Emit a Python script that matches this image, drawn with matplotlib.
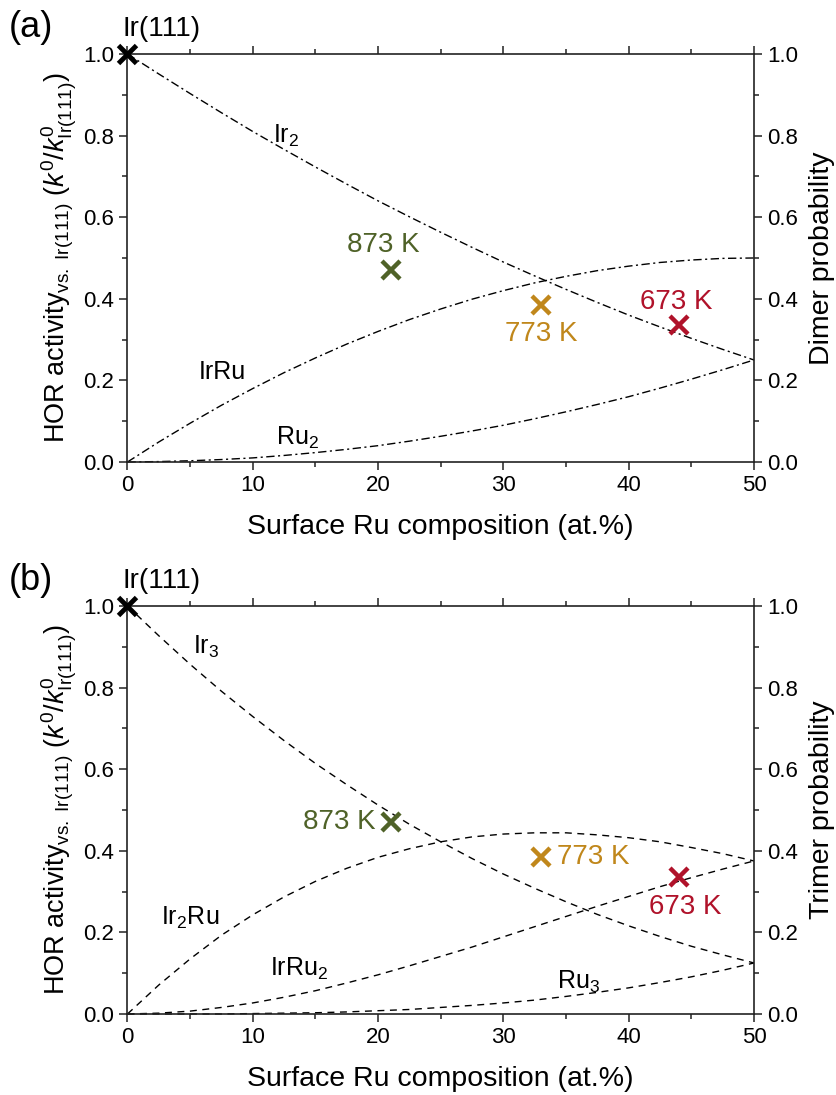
import matplotlib
matplotlib.use('Agg')
import matplotlib.pyplot as plt
from matplotlib.ticker import MultipleLocator, FormatStrFormatter

plt.rcParams['font.family'] = ['Liberation Sans', 'DejaVu Sans']
plt.rcParams['mathtext.fontset'] = 'custom'
plt.rcParams['mathtext.rm'] = 'Liberation Sans'
plt.rcParams['mathtext.it'] = 'Liberation Sans:italic'
plt.rcParams['mathtext.bf'] = 'Liberation Sans:bold'

# surface Ru composition (at.%)
ru_comp = [0, 2.5, 5, 7.5, 10, 12.5, 15, 17.5, 20, 22.5, 25,
           27.5, 30, 32.5, 35, 37.5, 40, 42.5, 45, 47.5, 50]

# dimer probabilities
ir2 = [1.000, 0.951, 0.903, 0.856, 0.810, 0.766, 0.723, 0.681, 0.640, 0.601, 0.563,
       0.526, 0.490, 0.456, 0.423, 0.391, 0.360, 0.331, 0.303, 0.276, 0.250]
irru = [0.000, 0.049, 0.095, 0.139, 0.180, 0.219, 0.255, 0.289, 0.320, 0.349, 0.375,
        0.399, 0.420, 0.439, 0.455, 0.469, 0.480, 0.489, 0.495, 0.499, 0.500]
ru2 = [0.000, 0.001, 0.003, 0.006, 0.010, 0.016, 0.023, 0.031, 0.040, 0.051, 0.063,
       0.076, 0.090, 0.106, 0.123, 0.141, 0.160, 0.181, 0.203, 0.226, 0.250]

# trimer probabilities
ir3 = [1.000, 0.927, 0.857, 0.791, 0.729, 0.670, 0.614, 0.562, 0.512, 0.465, 0.422,
       0.381, 0.343, 0.308, 0.275, 0.244, 0.216, 0.190, 0.166, 0.145, 0.125]
ir2ru = [0.000, 0.071, 0.135, 0.193, 0.243, 0.287, 0.325, 0.357, 0.384, 0.405, 0.422,
         0.434, 0.441, 0.444, 0.444, 0.439, 0.432, 0.422, 0.408, 0.393, 0.375]
irru2 = [0.000, 0.002, 0.007, 0.016, 0.027, 0.041, 0.057, 0.076, 0.096, 0.118, 0.141,
         0.164, 0.189, 0.214, 0.239, 0.264, 0.288, 0.312, 0.334, 0.355, 0.375]
ru3 = [0.000, 0.000, 0.000, 0.000, 0.001, 0.002, 0.003, 0.005, 0.008, 0.011, 0.016,
       0.021, 0.027, 0.034, 0.043, 0.053, 0.064, 0.077, 0.091, 0.107, 0.125]

# measured HOR activity
temps = ['873 K', '773 K', '673 K']
temp_comp = [21, 33, 44]
temp_act = [0.47, 0.385, 0.335]
temp_colors = ['#4f6228', '#c0871b', '#b0122a']

fig = plt.figure(figsize=(8.37, 10.95), dpi=100)
ax1 = fig.add_axes([0.1523, 0.5781, 0.7485, 0.3726])
ax2 = fig.add_axes([0.1523, 0.0740, 0.7485, 0.3726])

ylab = r'HOR activity$_{\mathrm{vs.\ Ir(111)}}$ ($k^0$/$k^0_{\mathrm{Ir(111)}}$)'


def style_axes(ax, rlabel):
    ax.set_xlim(0, 50)
    ax.set_ylim(0, 1)
    ax.xaxis.set_major_locator(MultipleLocator(10))
    ax.xaxis.set_minor_locator(MultipleLocator(5))
    ax.yaxis.set_major_locator(MultipleLocator(0.2))
    ax.yaxis.set_minor_locator(MultipleLocator(0.1))
    ax.yaxis.set_major_formatter(FormatStrFormatter('%.1f'))
    ax.tick_params(which='both', direction='out', top=True, right=True,
                   labelright=True, labelsize=16, width=1.1, color='#222222')
    ax.tick_params(which='major', length=5.5, pad=4)
    ax.tick_params(which='minor', length=3.5)
    for s in ax.spines.values():
        s.set_linewidth(1.2)
        s.set_color('#222222')
    ax.text(0.5, -0.159, 'Surface Ru composition (at.%)', transform=ax.transAxes,
            ha='center', va='center', fontsize=20.5)
    ax.text(-0.108, 0.5, ylab, transform=ax.transAxes, rotation=90,
            ha='center', va='center', fontsize=19.5)
    ax.text(1.109, 0.5, rlabel, transform=ax.transAxes, rotation=90,
            ha='center', va='center', fontsize=20.5)
    ax.plot([0], [1.0], marker='x', color='black', ms=13, mew=3.5,
            linestyle='none', clip_on=False, zorder=5)
    ax.text(2.7, 1.061, 'Ir(111)', ha='center', va='center', fontsize=20)
    for c, a, col in zip(temp_comp, temp_act, temp_colors):
        ax.plot([c], [a], marker='x', color=col, ms=13, mew=3.2,
                linestyle='none', zorder=5)


# (a) dimers
style_axes(ax1, 'Dimer probability')
dd = (6, 2.5, 1.5, 2.5)
for y in (ir2, irru, ru2):
    ax1.plot(ru_comp, y, color='black', lw=1.0, dashes=dd, clip_on=False)
ax1.text(12.7, 0.80, r'Ir$_2$', fontsize=18, ha='center', va='center')
ax1.text(7.6, 0.221, 'IrRu', fontsize=18, ha='center', va='center')
ax1.text(13.6, 0.058, r'Ru$_2$', fontsize=18, ha='center', va='center')
ax1.text(20.4, 0.532, temps[0], color=temp_colors[0], fontsize=20, ha='center', va='center')
ax1.text(33.0, 0.314, temps[1], color=temp_colors[1], fontsize=20, ha='center', va='center')
ax1.text(43.8, 0.392, temps[2], color=temp_colors[2], fontsize=20, ha='center', va='center')
fig.text(0.037, 0.975, '(a)', fontsize=26, ha='center', va='center')

# (b) trimers
style_axes(ax2, 'Trimer probability')
for y in (ir3, ir2ru, irru2, ru3):
    ax2.plot(ru_comp, y, color='black', lw=1.0, dashes=(5, 4), clip_on=False)
ax2.text(6.3, 0.90, r'Ir$_3$', fontsize=18, ha='center', va='center')
ax2.text(5.0, 0.235, r'Ir$_2$Ru', fontsize=18, ha='center', va='center')
ax2.text(13.7, 0.11, r'IrRu$_2$', fontsize=18, ha='center', va='center')
ax2.text(36.0, 0.078, r'Ru$_3$', fontsize=18, ha='center', va='center')
ax2.text(19.8, 0.47, temps[0], color=temp_colors[0], fontsize=20, ha='right', va='center')
ax2.text(34.3, 0.385, temps[1], color=temp_colors[1], fontsize=20, ha='left', va='center')
ax2.text(44.5, 0.262, temps[2], color=temp_colors[2], fontsize=20, ha='center', va='center')
fig.text(0.037, 0.470, '(b)', fontsize=26, ha='center', va='center')

fig.savefig('out.png', dpi=100)
